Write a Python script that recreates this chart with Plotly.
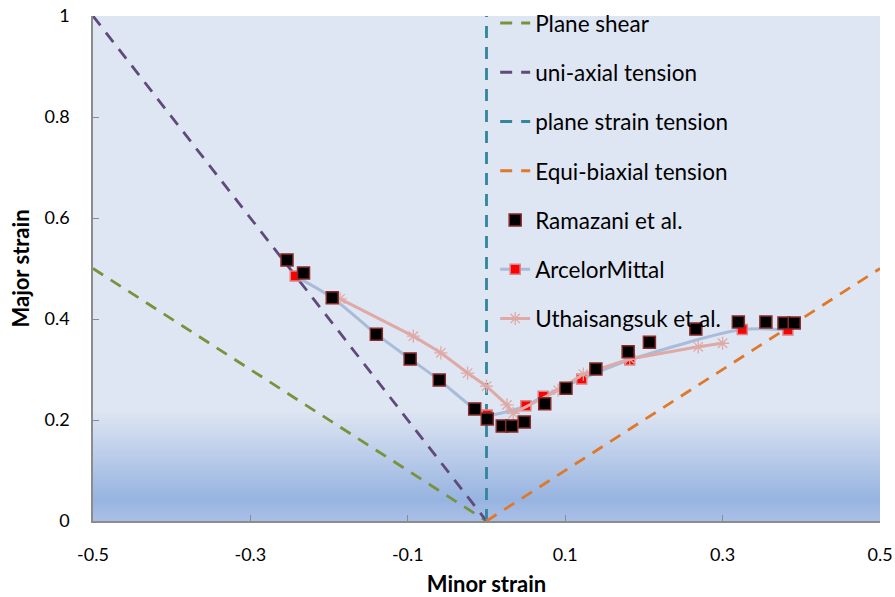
import plotly.graph_objects as go

# ---- data ----
ram_x = [-0.2535, -0.2325, -0.196, -0.140, -0.097, -0.060, -0.015, 0.001, 0.020, 0.032,
         0.048, 0.074, 0.101, 0.139, 0.180, 0.207, 0.266, 0.320, 0.355, 0.378, 0.391]
ram_y = [0.517, 0.491, 0.442, 0.370, 0.321, 0.279, 0.222, 0.202, 0.188, 0.188,
         0.196, 0.232, 0.263, 0.301, 0.335, 0.354, 0.380, 0.394, 0.394, 0.392, 0.392]

am_x = [-0.243, -0.196, -0.140, -0.097, -0.060, -0.015, 0.001, 0.050, 0.072, 0.121, 0.182, 0.325, 0.383]
am_y = [0.485, 0.442, 0.370, 0.321, 0.279, 0.222, 0.210, 0.228, 0.247, 0.281, 0.319, 0.379, 0.378]

ut_x = [-0.186, -0.093, -0.058, -0.024, 0.000, 0.026, 0.034, 0.091, 0.123, 0.182, 0.269, 0.300]
ut_y = [0.440, 0.366, 0.333, 0.293, 0.267, 0.230, 0.213, 0.259, 0.291, 0.321, 0.345, 0.352]

shear_x, shear_y = [-0.5, 0.0], [0.5, 0.0]
uni_x, uni_y = [-0.5, 0.0], [1.0, 0.0]
ps_x, ps_y = [0.0, 0.0], [0.0, 1.0]
eq_x, eq_y = [0.0, 0.5], [0.0, 0.5]

x_ticks = [-0.5, -0.3, -0.1, 0.1, 0.3, 0.5]
x_ticklabels = ["-0.5", "-0.3", "-0.1", "0.1", "0.3", "0.5"]
y_ticks = [0, 0.2, 0.4, 0.6, 0.8, 1]
y_ticklabels = ["0", "0.2", "0.4", "0.6", "0.8", "1"]

FONT = "Lato"

fig = go.Figure()

def dashed(x, y, name, color):
    fig.add_trace(go.Scatter(x=x, y=y, mode="lines", name=name, legendgroup=name,
                             line=dict(color=color, width=2.8, dash="12px,9px")))

dashed(shear_x, shear_y, "Plane shear", "#77933c")
dashed(uni_x, uni_y, "uni-axial tension", "#604a7b")
dashed(ps_x, ps_y, "plane strain tension", "#31859c")
dashed(eq_x, eq_y, "Equi-biaxial tension", "#e0782a")

fig.add_trace(go.Scatter(x=am_x, y=am_y, mode="lines+markers", name="ArcelorMittal",
                         legendgroup="ArcelorMittal",
                         line=dict(color="#a8bcd9", width=3, shape="spline", smoothing=0.8),
                         marker=dict(symbol="square", size=10, color="#ff0000",
                                     line=dict(color="#d9868a", width=1.5))))
fig.add_trace(go.Scatter(x=ut_x, y=ut_y, mode="lines+markers", name="Uthaisangsuk et al.",
                         legendgroup="Uthaisangsuk",
                         line=dict(color="#dfa9a6", width=3),
                         marker=dict(symbol="asterisk-open", size=11,
                                     line=dict(color="#e3a6a3", width=1.3))))
fig.add_trace(go.Scatter(x=ram_x, y=ram_y, mode="markers", name="Ramazani et al.",
                         legendgroup="Ramazani",
                         marker=dict(symbol="square", size=12, color="#000000",
                                     line=dict(color="#8b2a2a", width=1.5))))

# background gradient near the bottom
def mix(c1, c2, t):
    return "rgb(%d,%d,%d)" % tuple(round(a + (b - a) * t) for a, b in zip(c1, c2))

top = (223, 230, 243)
dark = (150, 179, 224)
bottom = (168, 191, 231)
shapes = []
n = 40
y_start, y_dark = 0.22, 0.04
for i in range(n):
    y0 = y_dark + (y_start - y_dark) * i / n
    y1 = y_dark + (y_start - y_dark) * (i + 1) / n + 0.004
    t = 1 - (i + 0.5) / n
    shapes.append(dict(type="rect", xref="x", yref="y", x0=-0.5, x1=0.5, y0=y0, y1=y1,
                       fillcolor=mix(top, dark, t), line=dict(width=0), layer="below"))
m = 8
for i in reversed(range(m)):
    y0 = y_dark * i / m
    y1 = y_dark * (i + 1) / m + 0.004
    t = (i + 0.5) / m
    shapes.append(dict(type="rect", xref="x", yref="y", x0=-0.5, x1=0.5, y0=y0, y1=y1,
                       fillcolor=mix(bottom, dark, t), line=dict(width=0), layer="below"))

fig.update_layout(
    width=895, height=597,
    margin=dict(l=93, r=15, t=16, b=76, autoexpand=False),
    paper_bgcolor="white",
    plot_bgcolor="rgb(223,230,243)",
    shapes=shapes,
    font=dict(family=FONT, size=18, color="#000000"),
    showlegend=True,
    legend=dict(x=0.511, y=1.028, xanchor="left", yanchor="top",
                bgcolor="rgba(0,0,0,0)", font=dict(family=FONT, size=22.5),
                tracegroupgap=17, traceorder="grouped", itemwidth=30, maxheight=597),
    xaxis=dict(range=[-0.5, 0.5], tickvals=x_ticks, ticktext=x_ticklabels,
               showgrid=False, zeroline=False, showline=True, linecolor="#8c8c8c",
               linewidth=1.5, ticks="inside", ticklen=6, tickcolor="#8c8c8c",
               automargin=False, ticklabelstandoff=17,
               title=dict(text="<b>Minor strain</b>", font=dict(size=22), standoff=17),
               tickfont=dict(size=18)),
    yaxis=dict(range=[0, 1], tickvals=y_ticks, ticktext=y_ticklabels,
               showgrid=False, zeroline=False, showline=True, linecolor="#8c8c8c",
               linewidth=1.5, ticks="inside", ticklen=6, tickcolor="#8c8c8c",
               automargin=False, ticklabelstandoff=18,
               title=dict(text="<b>Major strain</b>", font=dict(size=22), standoff=9),
               tickfont=dict(size=18)),
)

order = ["Plane shear", "uni-axial tension", "plane strain tension", "Equi-biaxial tension",
         "Ramazani et al.", "ArcelorMittal", "Uthaisangsuk et al."]
for tr in fig.data:
    tr.legendrank = order.index(tr.name)

fig.write_html("out.html", config={"displayModeBar": False},
               post_script="document.body.style.margin='0';document.body.style.padding='0';")
